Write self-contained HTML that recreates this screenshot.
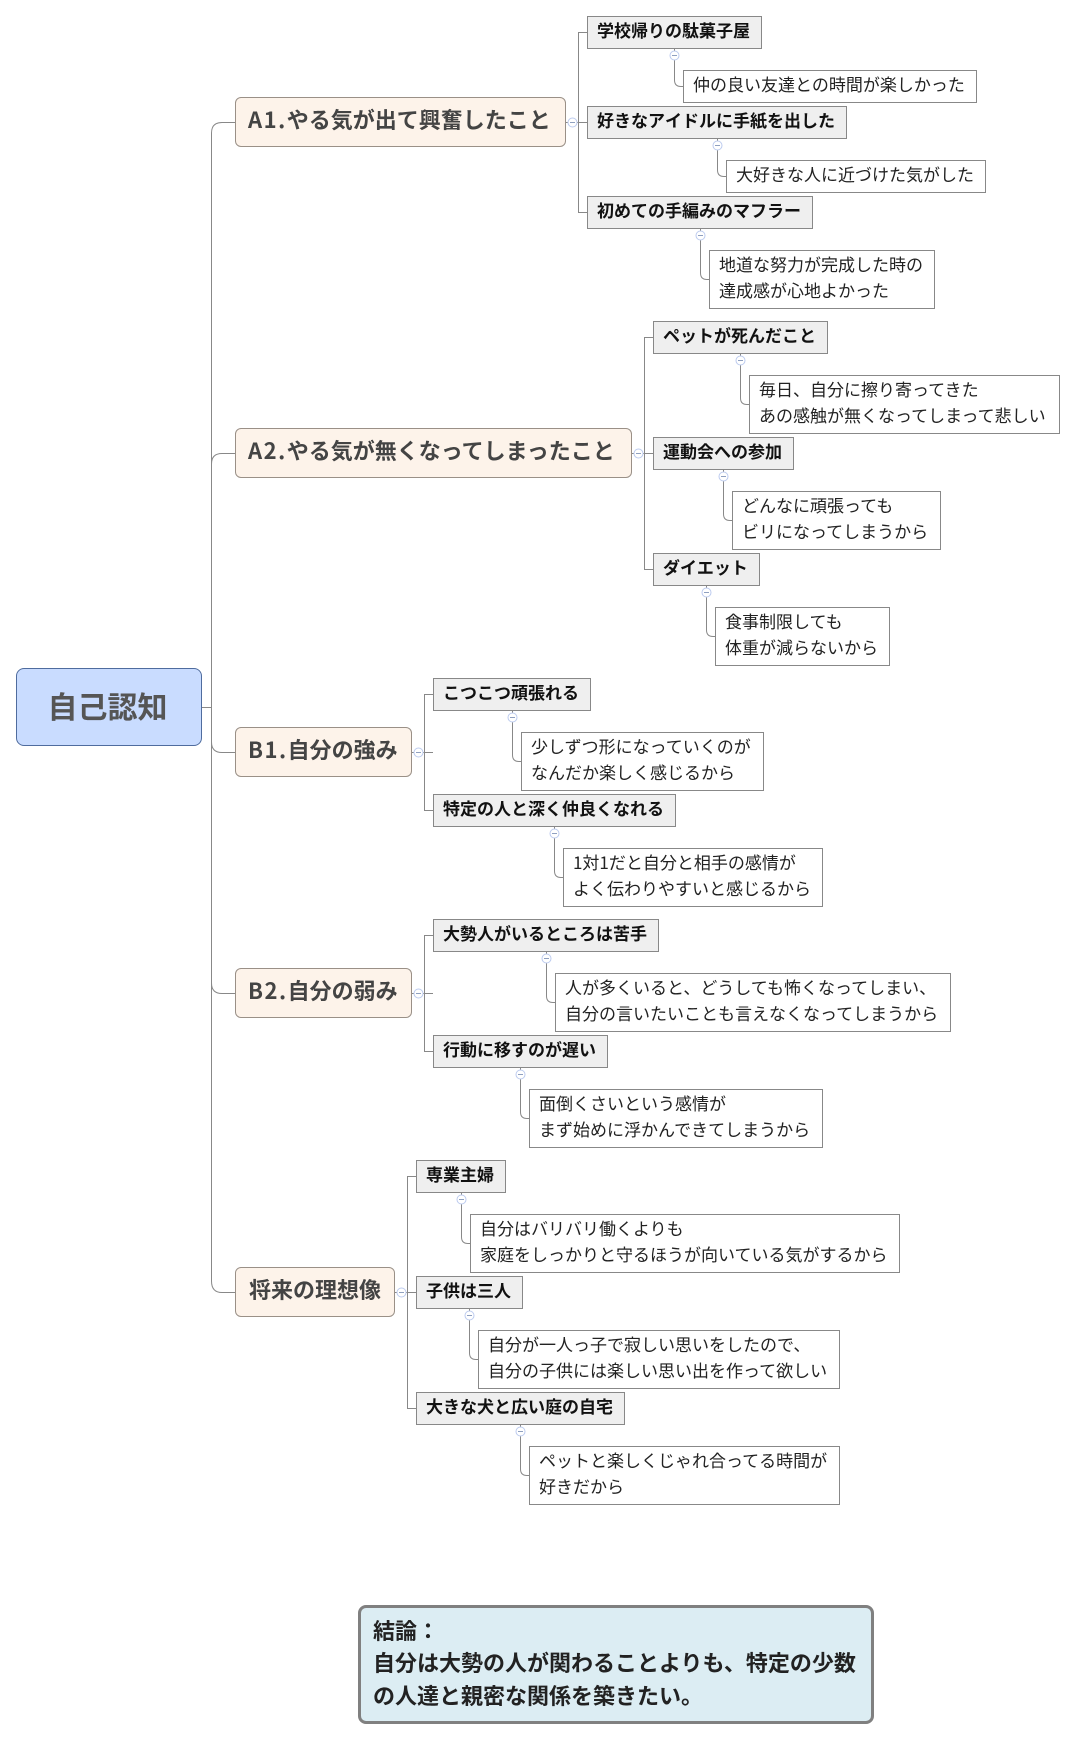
<!DOCTYPE html>
<html lang="ja">
<head>
<meta charset="utf-8">
<title>自己認知</title>
<style>
html,body{margin:0;padding:0;background:#fff}
body{position:relative;width:1076px;height:1741px;overflow:hidden;font-family:"Liberation Sans","Noto Sans CJK JP",sans-serif}
svg{position:absolute;left:0;top:0}
div{position:absolute;box-sizing:border-box;white-space:nowrap}
b{font-weight:bold;letter-spacing:1.5px}
.r{background:#c9dcff;border:1px solid #4f6c9e;border-radius:8px;color:#555;font-weight:bold;font-size:30px;line-height:72px;text-align:center;padding-right:3px;font-family:"Noto Sans CJK JP",sans-serif}
.m{background:#fdf3ea;border:1px solid #9a9087;border-radius:6px;color:#444;font-weight:bold;font-size:22px;line-height:43px;padding-left:12px;height:50px;font-family:"Noto Sans CJK JP",sans-serif}
.s{background:#efefef;border:1px solid #888;color:#111;font-weight:bold;font-size:17px;line-height:26px;padding-left:9px;height:33px;font-family:"Noto Sans CJK JP",sans-serif}
.n{background:#fff;border:1px solid #888;color:#222;font-size:17px;line-height:26px;padding-left:9px;height:33px;font-family:"Noto Sans CJK JP",sans-serif}
.t{height:59px}
.c{background:#dcedf3;border:3px solid #808080;border-radius:8px;color:#222;font-weight:bold;font-size:22px;line-height:32.7px;padding:5.5px 0 0 12px;font-family:"Noto Sans CJK JP",sans-serif}
</style>
</head>
<body>
<svg width="1076" height="1741" viewBox="0 0 1076 1741" fill="none" stroke="#888" stroke-width="1">
<!-- root trunk -->
<path d="M201 707.5H211.5"/>
<path d="M235 122.5H222Q211.5 122.5 211.5 133V1281Q211.5 1292.5 222 1292.5H235"/>
<path d="M235 453.5H222Q211.5 453.5 211.5 464"/>
<path d="M211.5 742Q211.5 752.5 222 752.5H235"/>
<path d="M211.5 983Q211.5 993.5 222 993.5H235"/>
<!-- section trunks -->
<path d="M587 32.5H578.5V212.5H587M566 122.5H587"/>
<path d="M653 337.5H644.5V569.5H653M632 453.5H653"/>
<path d="M433 694.5H424.5V810.5H433M411 752.5H433"/>
<path d="M433 935.5H424.5V1051.5H433M411 993.5H433"/>
<path d="M416 1176.5H407.5V1408.5H416M395 1292.5H416"/>
<!-- leaf connectors -->
<path d="M674.5 48V80Q674.5 86.5 681 86.5H684"/>
<path d="M717.5 138V170Q717.5 176.5 724 176.5H726"/>
<path d="M700.5 228V273Q700.5 279.5 707 279.5H710"/>
<path d="M740.5 353V398Q740.5 404.5 747 404.5H750"/>
<path d="M723.5 469V514Q723.5 520.5 730 520.5H732"/>
<path d="M706.5 585V630Q706.5 636.5 713 636.5H715"/>
<path d="M512.5 710V755Q512.5 761.5 519 761.5H522"/>
<path d="M554.5 826V871Q554.5 877.5 561 877.5H564"/>
<path d="M546.5 951V996Q546.5 1002.5 553 1002.5H555"/>
<path d="M520.5 1067V1112Q520.5 1118.5 527 1118.5H530"/>
<path d="M461.5 1192V1237Q461.5 1243.5 468 1243.5H470"/>
<path d="M469.5 1308V1353Q469.5 1359.5 476 1359.5H478"/>
<path d="M520.5 1424V1469Q520.5 1475.5 527 1475.5H529"/>
<!-- collapse icons -->
<g fill="#fff" stroke="#bccbef">
<circle cx="572.5" cy="122.5" r="4.5"/><circle cx="638.5" cy="453.5" r="4.5"/><circle cx="418.5" cy="752.5" r="4.5"/><circle cx="418.5" cy="993.5" r="4.5"/><circle cx="401.5" cy="1292.5" r="4.5"/>
<circle cx="674.5" cy="55.5" r="4.5"/><circle cx="717.5" cy="145.5" r="4.5"/><circle cx="700.5" cy="235.5" r="4.5"/><circle cx="740.5" cy="360.5" r="4.5"/><circle cx="723.5" cy="476.5" r="4.5"/><circle cx="706.5" cy="592.5" r="4.5"/><circle cx="512.5" cy="717.5" r="4.5"/><circle cx="554.5" cy="833.5" r="4.5"/><circle cx="546.5" cy="958.5" r="4.5"/><circle cx="520.5" cy="1074.5" r="4.5"/><circle cx="461.5" cy="1199.5" r="4.5"/><circle cx="469.5" cy="1315.5" r="4.5"/><circle cx="520.5" cy="1431.5" r="4.5"/>
</g>
<path stroke="#8fa0c0" d="M570 122.5h5M636 453.5h5M416 752.5h5M416 993.5h5M399 1292.5h5M672 55.5h5M715 145.5h5M698 235.5h5M738 360.5h5M721 476.5h5M704 592.5h5M510 717.5h5M552 833.5h5M544 958.5h5M518 1074.5h5M459 1199.5h5M467 1315.5h5M518 1431.5h5"/>
</svg>

<div class="r" style="left:16px;top:668px;width:186px;height:78px">自己認知</div>

<div class="m" style="left:235px;top:97px;width:331px"><b>A1.</b>やる気が出て興奮したこと</div>
<div class="s" style="left:587px;top:16px;width:175px">学校帰りの駄菓子屋</div>
<div class="n" style="left:683px;top:70px;width:294px">仲の良い友達との時間が楽しかった</div>
<div class="s" style="left:587px;top:106px;width:260px">好きなアイドルに手紙を出した</div>
<div class="n" style="left:726px;top:160px;width:260px">大好きな人に近づけた気がした</div>
<div class="s" style="left:587px;top:196px;width:226px">初めての手編みのマフラー</div>
<div class="n t" style="left:709px;top:250px;width:226px">地道な努力が完成した時の<br>達成感が心地よかった</div>

<div class="m" style="left:235px;top:428px;width:397px"><b>A2.</b>やる気が無くなってしまったこと</div>
<div class="s" style="left:653px;top:321px;width:175px">ペットが死んだこと</div>
<div class="n t" style="left:749px;top:375px;width:311px">毎日、自分に擦り寄ってきた<br>あの感触が無くなってしまって悲しい</div>
<div class="s" style="left:653px;top:437px;width:141px">運動会への参加</div>
<div class="n t" style="left:732px;top:491px;width:209px">どんなに頑張っても<br>ビリになってしまうから</div>
<div class="s" style="left:653px;top:553px;width:107px">ダイエット</div>
<div class="n t" style="left:715px;top:607px;width:175px">食事制限しても<br>体重が減らないから</div>

<div class="m" style="left:235px;top:727px;width:177px"><b>B1.</b>自分の強み</div>
<div class="s" style="left:433px;top:678px;width:158px">こつこつ頑張れる</div>
<div class="n t" style="left:521px;top:732px;width:243px">少しずつ形になっていくのが<br>なんだか楽しく感じるから</div>
<div class="s" style="left:433px;top:794px;width:243px">特定の人と深く仲良くなれる</div>
<div class="n t" style="left:563px;top:848px;width:260px">1対1だと自分と相手の感情が<br>よく伝わりやすいと感じるから</div>

<div class="m" style="left:235px;top:968px;width:177px"><b>B2.</b>自分の弱み</div>
<div class="s" style="left:433px;top:919px;width:226px">大勢人がいるところは苦手</div>
<div class="n t" style="left:555px;top:973px;width:396px">人が多くいると、どうしても怖くなってしまい、<br>自分の言いたいことも言えなくなってしまうから</div>
<div class="s" style="left:433px;top:1035px;width:175px">行動に移すのが遅い</div>
<div class="n t" style="left:529px;top:1089px;width:294px">面倒くさいという感情が<br>まず始めに浮かんできてしまうから</div>

<div class="m" style="left:235px;top:1267px;width:160px;padding-left:13px">将来の理想像</div>
<div class="s" style="left:416px;top:1160px;width:90px">専業主婦</div>
<div class="n t" style="left:470px;top:1214px;width:430px">自分はバリバリ働くよりも<br>家庭をしっかりと守るほうが向いている気がするから</div>
<div class="s" style="left:416px;top:1276px;width:107px">子供は三人</div>
<div class="n t" style="left:478px;top:1330px;width:362px">自分が一人っ子で寂しい思いをしたので、<br>自分の子供には楽しい思い出を作って欲しい</div>
<div class="s" style="left:416px;top:1392px;width:209px">大きな犬と広い庭の自宅</div>
<div class="n t" style="left:529px;top:1446px;width:311px">ペットと楽しくじゃれ合ってる時間が<br>好きだから</div>

<div class="c" style="left:358px;top:1605px;width:516px;height:119px">結論：<br>自分は大勢の人が関わることよりも、特定の少数<br>の人達と親密な関係を築きたい。</div>
</body>
</html>
